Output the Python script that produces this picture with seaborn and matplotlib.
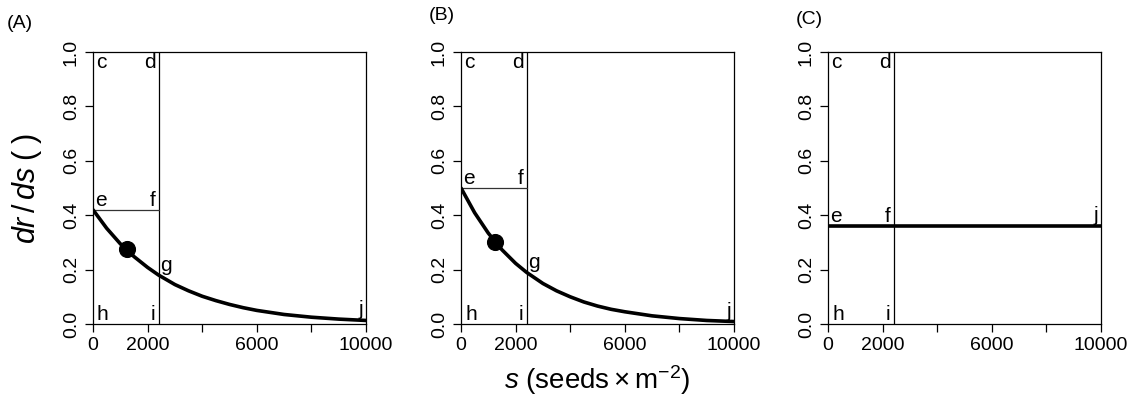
import numpy as np
import pandas as pd
import matplotlib
matplotlib.use("Agg")
import matplotlib.pyplot as plt
import seaborn as sns

# ---- data ----
s_grid = [0, 500, 1000, 1500, 2000, 2400, 3000, 3500, 4000, 4500, 5000, 5500, 6000, 7000, 8000, 9000, 10000]
curve_A = [0.42, 0.352, 0.295, 0.248, 0.208, 0.180, 0.145, 0.122, 0.102, 0.086, 0.072, 0.060, 0.050, 0.035, 0.025, 0.018, 0.013]
curve_B = [0.50, 0.409, 0.334, 0.273, 0.223, 0.190, 0.149, 0.122, 0.100, 0.081, 0.066, 0.054, 0.045, 0.030, 0.020, 0.013, 0.009]
curve_C = [0.36] * 17
dot_s = [1230, 1250, None]
dot_y = [0.275, 0.302, None]
threshold_s = [2400, 2400, 2400]
e_level = [0.42, 0.50, 0.36]
g_level = [0.180, 0.190, 0.36]
j_level = [0.013, 0.009, 0.36]
panel_labels = ["(A)", "(B)", "(C)"]
x_ticks = [0, 2000, 4000, 6000, 8000, 10000]
x_ticklabels = ["0", "2000", "", "6000", "", "10000"]
y_ticks = [0.0, 0.2, 0.4, 0.6, 0.8, 1.0]
y_ticklabels = ["0.0", "0.2", "0.4", "0.6", "0.8", "1.0"]

curves = [curve_A, curve_B, curve_C]

sns.set_theme(style="ticks")
plt.rcParams["font.family"] = ["Liberation Sans", "DejaVu Sans"]
plt.rcParams["text.color"] = "black"
plt.rcParams["mathtext.fontset"] = "custom"
plt.rcParams["mathtext.rm"] = "Liberation Sans"
plt.rcParams["mathtext.it"] = "Liberation Sans:italic"
plt.rcParams["mathtext.bf"] = "Liberation Sans:bold"

fig = plt.figure(figsize=(11.35, 4.0), dpi=100)
W, H = 1135.0, 400.0
lefts = [93, 461, 828]
ax_w = 273
top_px, bot_px = 52, 324

panel_label_pos = [(7, 23), (429, 15), (796, 19)]

for i in range(3):
    ax = fig.add_axes([lefts[i] / W, 1 - bot_px / H, ax_w / W, (bot_px - top_px) / H])
    df = pd.DataFrame({"s": s_grid, "y": curves[i]})
    sns.lineplot(data=df, x="s", y="y", ax=ax, color="black", linewidth=2.6, zorder=4)
    ax.axvline(threshold_s[i], color="black", linewidth=0.9, zorder=3)
    ax.plot([0, threshold_s[i]], [e_level[i], e_level[i]], color="#333333", linewidth=0.9, zorder=3)
    if dot_s[i] is not None:
        sns.scatterplot(x=[dot_s[i]], y=[dot_y[i]], ax=ax, color="black", s=130,
                        edgecolor="black", zorder=5, legend=False)
    ax.set_xlim(0, 10000)
    ax.set_ylim(0, 1)
    ax.set_xlabel("")
    ax.set_ylabel("")
    ax.set_xticks(x_ticks)
    ax.set_xticklabels(x_ticklabels, fontsize=14)
    ax.set_yticks(y_ticks)
    ax.set_yticklabels(y_ticklabels, fontsize=14, rotation=90, va="center")
    ax.tick_params(axis="both", direction="out", length=5.5, width=0.9, color="black",
                   labelcolor="black", pad=4)
    for sp in ax.spines.values():
        sp.set_visible(True)
        sp.set_linewidth(0.9)
        sp.set_color("black")

    fs = 15
    t = threshold_s[i]
    kw = dict(fontsize=fs, color="black", zorder=6)
    off = matplotlib.transforms.offset_copy
    ax.text(0, 1.0, "c", ha="left", va="top",
            transform=off(ax.transData, fig=fig, x=3, y=-1, units="dots"), **kw)
    ax.text(t, 1.0, "d", ha="right", va="top",
            transform=off(ax.transData, fig=fig, x=-3, y=-1, units="dots"), **kw)
    ax.text(0, e_level[i], "e", ha="left", va="bottom",
            transform=off(ax.transData, fig=fig, x=2, y=0, units="dots"), **kw)
    ax.text(t, e_level[i], "f", ha="right", va="bottom",
            transform=off(ax.transData, fig=fig, x=-3, y=0, units="dots"), **kw)
    ax.text(0, 0, "h", ha="left", va="bottom",
            transform=off(ax.transData, fig=fig, x=4, y=0, units="dots"), **kw)
    ax.text(t, 0, "i", ha="right", va="bottom",
            transform=off(ax.transData, fig=fig, x=-3, y=0, units="dots"), **kw)
    ax.text(10000, j_level[i], "j", ha="right", va="bottom",
            transform=off(ax.transData, fig=fig, x=-3, y=1, units="dots"), **kw)
    if i < 2:
        ax.text(t, g_level[i], "g", ha="left", va="bottom",
                transform=off(ax.transData, fig=fig, x=2, y=0, units="dots"), **kw)

    px, py = panel_label_pos[i]
    fig.text(px / W, 1 - py / H, panel_labels[i], ha="left", va="center", fontsize=14)

fig.text(27 / W, 1 - 189 / H, r"$dr\,/\,ds\;(\;)$", rotation=90, ha="center", va="center", fontsize=22)
fig.text(597 / W, 1 - 380 / H, r"$s\ \mathrm{(seeds\times m^{-2})}$", ha="center", va="center", fontsize=20)

fig.savefig("out.png", dpi=100)
